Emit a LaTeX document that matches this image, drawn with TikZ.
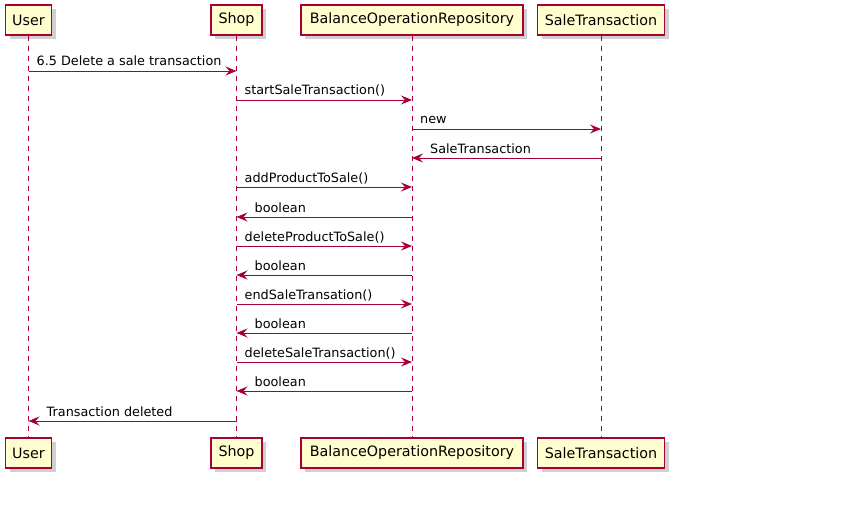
\documentclass[tikz,border=0pt]{standalone}
\usepackage{fontspec}
\setmainfont{DejaVu Sans}
\usetikzlibrary{arrows.meta,shadows}
\definecolor{pfill}{HTML}{FEFECE}
\definecolor{pline}{HTML}{A80036}
\begin{document}
\begin{tikzpicture}[x=1pt,y=-1pt,
  part/.style={draw=pline,fill=pfill,line width=1.1pt,minimum height=30pt,inner sep=0pt,
    font=\fontsize{14.3pt}{16pt}\selectfont,
    drop shadow={shadow xshift=4pt,shadow yshift=-4pt,opacity=0.3,fill=black!60}},
  life/.style={draw=pline,line width=0.8pt,dash pattern=on 5pt off 5pt},
  msg/.style={draw=pline,line width=0.9pt,-{Stealth[length=11pt,width=9pt,inset=4pt]}},
  lbl/.style={font=\fontsize{12.8pt}{15pt}\selectfont,inner sep=0pt}
]
\useasboundingbox (0,0) rectangle (845,532);
\fill[white] (0,0) rectangle (845,532);
% participants
\node[part,minimum width=46pt] (userT) at (28.5,20) {User};
\node[part,minimum width=51pt] (shopT) at (236.5,20) {Shop};
\node[part,minimum width=222pt] (borT) at (412,20) {BalanceOperationRepository};
\node[part,minimum width=127pt] (stT) at (601,20) {SaleTransaction};
\node[part,minimum width=46pt] (userB) at (28.5,453) {User};
\node[part,minimum width=51pt] (shopB) at (236.5,453) {Shop};
\node[part,minimum width=222pt] (borB) at (412,453) {BalanceOperationRepository};
\node[part,minimum width=127pt] (stB) at (601,453) {SaleTransaction};
% lifelines
\draw[life] (userT.south) -- (userB.north);
\draw[life] (shopT.south) -- (shopB.north);
\draw[life] (borT.south) -- (borB.north);
\draw[life] (stT.south) -- (stB.north);
% messages
\newcommand{\msgR}[4]{%
  \draw[msg] (#1 |- 0,#3) -- (#2 |- 0,#3);
  \node[lbl,anchor=base west] at ([xshift=8pt]#1 |- 0,#3-5) {#4};}
\newcommand{\msgL}[4]{%
  \draw[msg] (#1 |- 0,#3) -- (#2 |- 0,#3);
  \node[lbl,anchor=base west] at ([xshift=18pt]#2 |- 0,#3-5) {#4};}
\msgR{userT}{shopT}{71}{6.5 Delete a sale transaction}
\msgR{shopT}{borT}{100}{startSaleTransaction()}
\msgR{borT}{stT}{129}{new}
\msgL{stT}{borT}{158}{SaleTransaction}
\msgR{shopT}{borT}{187}{addProductToSale()}
\msgL{borT}{shopT}{217}{boolean}
\msgR{shopT}{borT}{246}{deleteProductToSale()}
\msgL{borT}{shopT}{275}{boolean}
\msgR{shopT}{borT}{304}{endSaleTransation()}
\msgL{borT}{shopT}{333}{boolean}
\msgR{shopT}{borT}{362}{deleteSaleTransaction()}
\msgL{borT}{shopT}{391}{boolean}
\msgL{shopT}{userT}{421}{Transaction deleted}
\end{tikzpicture}
\end{document}
